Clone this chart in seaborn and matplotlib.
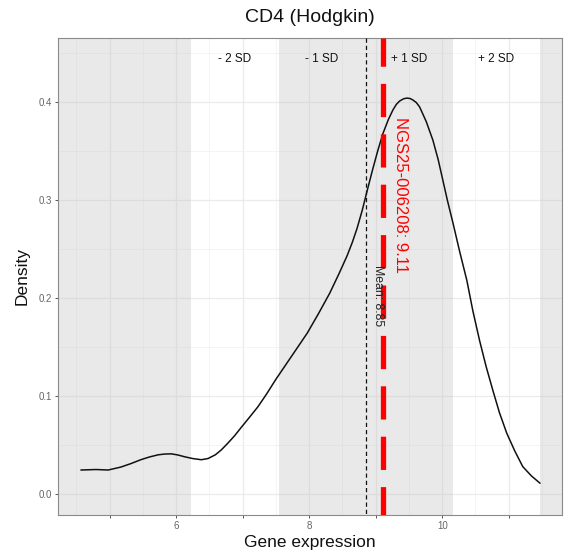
import matplotlib
matplotlib.use("Agg")
import matplotlib.pyplot as plt
import seaborn as sns
import pandas as pd

# ---- data ----
expr = [4.57, 4.80, 4.98, 5.17, 5.32, 5.47, 5.60, 5.73, 5.83, 5.93, 6.03, 6.13,
        6.25, 6.38, 6.48, 6.59, 6.68, 6.78, 6.88, 6.98, 7.10, 7.23, 7.36, 7.50,
        7.73, 7.97, 8.14, 8.31, 8.45, 8.57, 8.65, 8.72, 8.80, 8.87, 8.95, 9.03,
        9.11, 9.19, 9.26, 9.31, 9.36, 9.42, 9.47, 9.52, 9.56, 9.61, 9.66, 9.76,
        9.86, 9.94, 10.01, 10.08, 10.16, 10.26, 10.37, 10.46, 10.56, 10.66, 10.76,
        10.86, 10.97, 11.09, 11.21, 11.34, 11.47]
density = [0.0245, 0.0250, 0.0245, 0.0275, 0.0310, 0.0350, 0.0378, 0.0400, 0.0408,
           0.0410, 0.0398, 0.0380, 0.0362, 0.0350, 0.0362, 0.0400, 0.0450, 0.0520,
           0.0595, 0.0680, 0.0780, 0.0890, 0.1020, 0.1170, 0.1400, 0.1640, 0.1840,
           0.2050, 0.2250, 0.2430, 0.2570, 0.2710, 0.2900, 0.3090, 0.3300, 0.3500,
           0.3680, 0.3820, 0.3920, 0.3975, 0.4010, 0.4033, 0.4040, 0.4035, 0.4020,
           0.3995, 0.3950, 0.3800, 0.3610, 0.3410, 0.3200, 0.2990, 0.2770, 0.2480,
           0.2180, 0.1870, 0.1570, 0.1300, 0.1060, 0.0830, 0.0620, 0.0440, 0.0280,
           0.0185, 0.0110]
mean_val = 8.85
sd_val = 1.31
sample_val = 9.11
sample_id = "NGS25-006208"
title = "CD4 (Hodgkin)"
x_ticks = [5, 6, 7, 8, 9, 10, 11]
x_tick_labels = ["", "6", "", "8", "", "10", ""]
y_ticks = [0.0, 0.1, 0.2, 0.3, 0.4]
y_tick_labels = ["0.0", "0.1", "0.2", "0.3", "0.4"]
sd_labels = ["- 2 SD", "- 1 SD", "+ 1 SD", "+ 2 SD"]

df = pd.DataFrame({"expr": expr, "density": density})

sns.set_theme(style="white")
plt.rcParams['font.family'] = ['Liberation Sans', 'DejaVu Sans']

W, H = 568, 558
fig = plt.figure(figsize=(W / 100, H / 100), dpi=100)
ax = fig.add_axes([58 / W, 43 / H, 504 / W, 477 / H])
ax.set_facecolor("white")

xlim = (4.226, 11.80)
ylim = (-0.0214, 0.4653)

# density curve
sns.lineplot(data=df, x="expr", y="density", ax=ax, color="#111111", lw=1.1,
             zorder=3, sort=True, estimator=None)

# grid / ticks
ax.set_axisbelow(True)
ax.set_xticks(x_ticks)
ax.set_xticklabels(x_tick_labels)
ax.set_yticks(y_ticks)
ax.set_yticklabels(y_tick_labels)
ax.set_xticks([4.5, 5.5, 6.5, 7.5, 8.5, 9.5, 10.5, 11.5], minor=True)
ax.set_yticks([0.05, 0.15, 0.25, 0.35, 0.45], minor=True)
ax.grid(which="major", color="#EBEBEB", lw=0.9)
ax.grid(which="minor", color="#F2F2F2", lw=0.6)

ax.set_xlim(*xlim)
ax.set_ylim(*ylim)

# SD bands
e = [mean_val + k * sd_val for k in (-2, -1, 0, 1, 2)]
for a, b in [(xlim[0], e[0]), (e[1], e[3]), (e[4], xlim[1])]:
    ax.axvspan(a, b, color="#BEBEBE", alpha=0.33, lw=0, zorder=1)

centers = [(e[0] + e[1]) / 2, (e[1] + e[2]) / 2, (e[2] + e[3]) / 2, (e[3] + e[4]) / 2]
for c, lab in zip(centers, sd_labels):
    ax.text(c, 0.444, lab, ha="center", va="center", fontsize=8.5, color="#111111", zorder=5)

# mean and sample lines (drawn from the top down)
ax.plot([mean_val, mean_val], [ylim[1], ylim[0]], color="#111111", lw=0.9,
        linestyle=(0, (3.4, 2.4)), zorder=4)
ax.plot([sample_val, sample_val], [ylim[1], ylim[0]], color="#FF0000", lw=3.8,
        linestyle=(0.95, (6.3, 3.25)), zorder=4, solid_capstyle="butt")

ax.text(9.03, 0.202, f"Mean: {mean_val:.2f}", rotation=-90, ha="center", va="center",
        fontsize=8.8, color="#222222", zorder=5)
ax.text(9.37, 0.305, f"{sample_id}: {sample_val:.2f}", rotation=-90, ha="center",
        va="center", fontsize=12, color="#FF0000", zorder=5)

# axes styling
for s in ax.spines.values():
    s.set_color("#8A8A8A")
    s.set_linewidth(0.8)
ax.tick_params(which="major", bottom=True, left=True, length=2.5, width=0.7,
               color="#555555", labelsize=7, labelcolor="#666666", pad=2)
ax.tick_params(which="minor", bottom=False, left=False, length=0)
ax.set_xlabel("")
ax.set_ylabel("")
ax.set_xlim(*xlim)
ax.set_ylim(*ylim)

fig.text(310 / W, 1 - 18 / H, title, ha="center", va="center", fontsize=14, color="#111111")
fig.text(310 / W, 1 - 543 / H, "Gene expression", ha="center", va="center",
         fontsize=12.5, color="#111111")
fig.text(22 / W, 1 - 276 / H, "Density", ha="center", va="center", rotation=90,
         fontsize=12.5, color="#111111")

fig.savefig("out.png", dpi=100)
